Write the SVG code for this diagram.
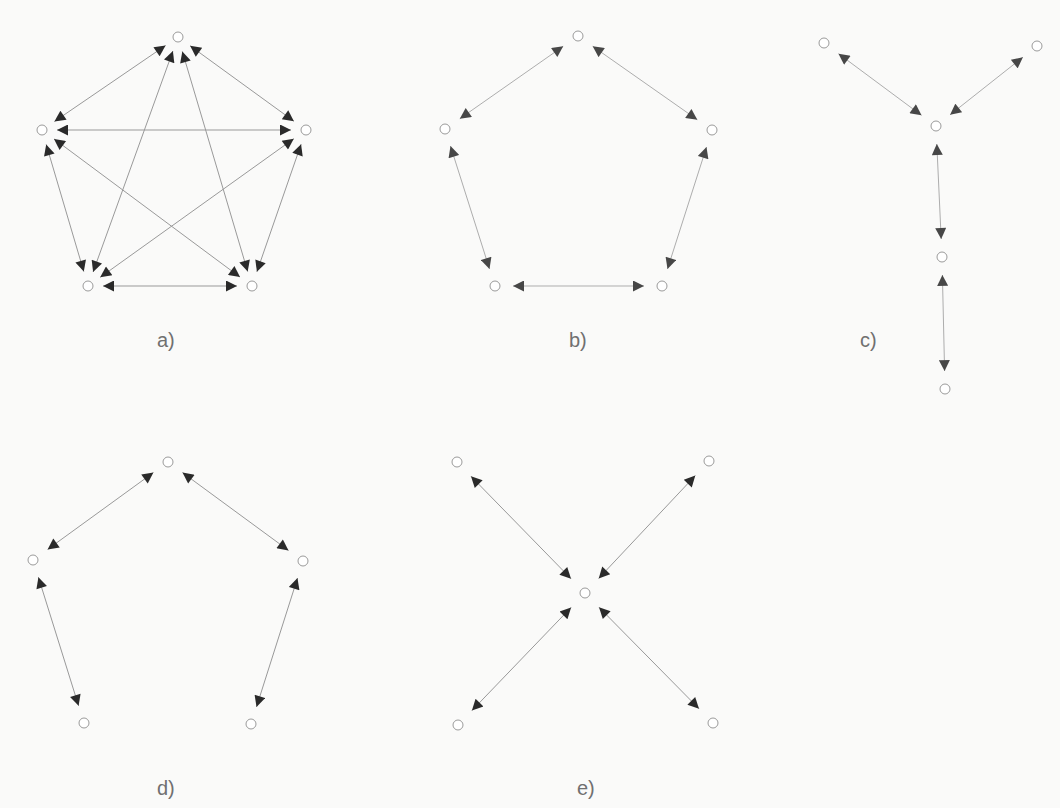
<svg xmlns="http://www.w3.org/2000/svg" width="1060" height="808" viewBox="0 0 1060 808">
<defs>
<marker id="ah" viewBox="0 0 10 10" refX="10" refY="5" markerWidth="13" markerHeight="11" markerUnits="userSpaceOnUse" orient="auto-start-reverse">
<path d="M0,0 L10,5 L0,10 z" fill="#2a2a2a"/>
</marker>
<marker id="ahg" viewBox="0 0 10 10" refX="10" refY="5" markerWidth="13" markerHeight="11" markerUnits="userSpaceOnUse" orient="auto-start-reverse">
<path d="M0,0 L10,5 L0,10 z" fill="#474747"/>
</marker>
</defs>
<style>
.n{fill:#ffffff;stroke:#9a9a9a;stroke-width:1}
.e{stroke:#999999;stroke-width:1;fill:none;marker-start:url(#ah);marker-end:url(#ah)}
.g{stroke:#adadad;stroke-width:1;fill:none;marker-start:url(#ahg);marker-end:url(#ahg)}
.lbl{font-family:"Liberation Sans",Arial,sans-serif;font-size:20px;fill:#707070}
</style>
<rect width="1060" height="808" fill="#fafaf9"/>

<g id="connectors">
<!-- a -->
<line class="e" x1="165.6" y1="45.5" x2="54.4" y2="121.5"/>
<line class="e" x1="190.1" y1="45.8" x2="293.9" y2="121.2"/>
<line class="e" x1="172.9" y1="51.1" x2="93.1" y2="271.9"/>
<line class="e" x1="182.3" y1="51.4" x2="247.7" y2="271.6"/>
<line class="e" x1="57" y1="130" x2="291" y2="130"/>
<line class="e" x1="46.2" y1="144.4" x2="83.8" y2="271.6"/>
<line class="e" x1="54" y1="138.9" x2="240" y2="277.1"/>
<line class="e" x1="293.8" y1="138.7" x2="100.2" y2="277.3"/>
<line class="e" x1="301.1" y1="144.2" x2="256.9" y2="271.8"/>
<line class="e" x1="103" y1="286" x2="237" y2="286"/>
<!-- b -->
<line class="g" x1="563.2" y1="46.3" x2="459.8" y2="118.7"/>
<line class="g" x1="592.7" y1="46.3" x2="697.3" y2="119.7"/>
<line class="g" x1="450.5" y1="146.1" x2="489.5" y2="268.9"/>
<line class="g" x1="706.5" y1="147.1" x2="667.5" y2="268.9"/>
<line class="g" x1="513" y1="286" x2="644" y2="286"/>
<!-- c -->
<line class="g" x1="838.5" y1="53.7" x2="921.5" y2="115.3"/>
<line class="g" x1="1022.9" y1="57.2" x2="950.1" y2="114.8"/>
<line class="g" x1="936.8" y1="144" x2="941.2" y2="239"/>
<line class="g" x1="942.4" y1="275" x2="944.6" y2="371"/>
<!-- d -->
<line class="e" x1="153.4" y1="472.6" x2="47.6" y2="549.4"/>
<line class="e" x1="182.5" y1="472.6" x2="288.5" y2="550.4"/>
<line class="e" x1="38.4" y1="577.2" x2="78.6" y2="705.8"/>
<line class="e" x1="297.5" y1="578.1" x2="256.5" y2="706.9"/>
<!-- e -->
<line class="e" x1="471" y1="476.3" x2="571" y2="578.7"/>
<line class="e" x1="695.3" y1="475.6" x2="598.7" y2="578.4"/>
<line class="e" x1="471.9" y1="710.6" x2="571.1" y2="607.4"/>
<line class="e" x1="699" y1="708.7" x2="599" y2="607.3"/>
</g>

<g id="a">
<circle id="a1" class="n" cx="178" cy="37" r="5"/>
<circle id="a2" class="n" cx="42" cy="130" r="5"/>
<circle id="a3" class="n" cx="306" cy="130" r="5"/>
<circle id="a4" class="n" cx="88" cy="286" r="5"/>
<circle id="a5" class="n" cx="252" cy="286" r="5"/>
<text class="lbl" x="157" y="347">a)</text>
</g>
<g id="b">
<circle id="b1" class="n" cx="578" cy="36" r="5"/>
<circle id="b2" class="n" cx="445" cy="129" r="5"/>
<circle id="b3" class="n" cx="712" cy="130" r="5"/>
<circle id="b4" class="n" cx="495" cy="286" r="5"/>
<circle id="b5" class="n" cx="662" cy="286" r="5"/>
<text class="lbl" x="569" y="347">b)</text>
</g>
<g id="c">
<circle id="c1" class="n" cx="824" cy="43" r="5"/>
<circle id="c2" class="n" cx="1037" cy="46" r="5"/>
<circle id="c3" class="n" cx="936" cy="126" r="5"/>
<circle id="c4" class="n" cx="942" cy="257" r="5"/>
<circle id="c5" class="n" cx="945" cy="389" r="5"/>
<text class="lbl" x="860" y="347">c)</text>
</g>
<g id="d">
<circle id="d1" class="n" cx="168" cy="462" r="5"/>
<circle id="d2" class="n" cx="33" cy="560" r="5"/>
<circle id="d3" class="n" cx="303" cy="561" r="5"/>
<circle id="d4" class="n" cx="84" cy="723" r="5"/>
<circle id="d5" class="n" cx="251" cy="724" r="5"/>
<text class="lbl" x="157" y="795">d)</text>
</g>
<g id="e">
<circle id="e1" class="n" cx="457" cy="462" r="5"/>
<circle id="e2" class="n" cx="709" cy="461" r="5"/>
<circle id="e3" class="n" cx="585" cy="593" r="5"/>
<circle id="e4" class="n" cx="458" cy="725" r="5"/>
<circle id="e5" class="n" cx="713" cy="723" r="5"/>
<text class="lbl" x="577" y="795">e)</text>
</g>
</svg>
